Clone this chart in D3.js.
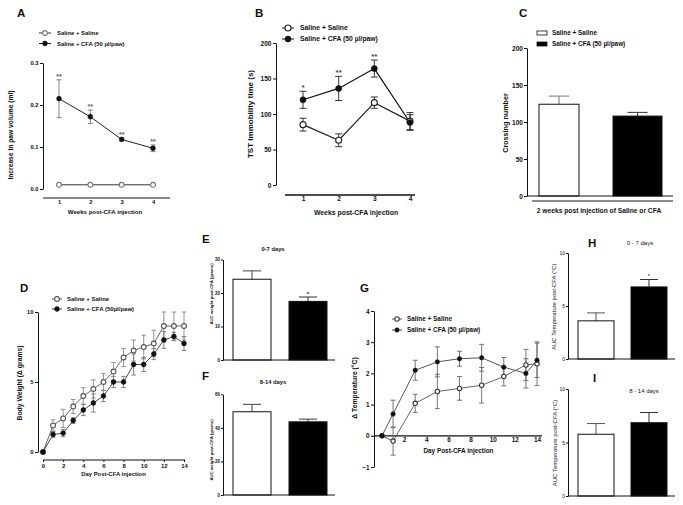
<!DOCTYPE html>
<html>
<head>
<meta charset="utf-8">
<script src="https://cdn.jsdelivr.net/npm/d3@7"></script>
<style>
body { margin: 0; background: #fff; }
svg text { font-family: "Liberation Sans", Arial, sans-serif; fill: #111; }
.axis path, .axis line { stroke: #111; stroke-width: 1; }
</style>
</head>
<body>
<div id="figure"></div>
<script>
const FIG_WIDTH = 683;
const FIG_HEIGHT = 505;

// ---- data ----
const groupNames = ["Saline + Saline", "Saline + CFA (50 \u00b5l/paw)"];
const groupNamesD = ["Saline + Saline", "Saline + CFA (50\u00b5l/paw)"];
const groupNamesC = ["Saline + Saline", "Saline + CFA (50  \u00b5l/paw)"];

// A: paw volume
const weeks = [1, 2, 3, 4];
const pawSaline = [0.01, 0.01, 0.01, 0.01];
const pawSalineErr = [0, 0, 0, 0];
const pawCfa = [0.215, 0.172, 0.118, 0.097];
const pawCfaErr = [0.045, 0.016, 0.003, 0.008];
const pawStars = ["**", "**", "**", "**"];

// B: TST immobility
const tstSaline = [85, 63, 116, 90];
const tstSalineErr = [9, 9, 8, 12];
const tstCfa = [120, 136, 164, 88];
const tstCfaErr = [12, 17, 12, 11];
const tstStars = ["*", "**", "**", ""];

// C: crossing number
const crossing = [124, 108];
const crossingErr = [11, 5];

// D: body weight
const weightDays = [0, 1, 2, 3, 4, 5, 6, 7, 8, 9, 10, 11, 12, 13, 14];
const weightSaline = [0, 1.9, 2.4, 3.25, 4.0, 4.5, 5.0, 5.75, 6.75, 7.25, 7.5, 7.75, 9.0, 9.0, 9.0];
const weightSalineErr = [0, 0.4, 0.65, 0.5, 0.6, 0.65, 0.6, 0.65, 0.65, 0.75, 0.85, 0.95, 1.0, 1.0, 1.0];
const weightCfa = [0, 1.25, 1.35, 2.25, 3.0, 3.5, 4.0, 5.0, 5.0, 6.25, 6.25, 7.0, 8.0, 8.25, 7.75];
const weightCfaErr = [0, 0.2, 0.25, 0.2, 0.4, 0.65, 0.4, 0.4, 0.4, 0.75, 0.5, 0.4, 0.6, 0.3, 0.5];

// E, F: AUC weight
const aucWeight07 = [24.1, 17.5];
const aucWeight07Err = [2.5, 1.3];
const aucWeight814 = [49.6, 43.6];
const aucWeight814Err = [4.4, 1.6];

// G: temperature
const tempDays = [0, 1, 3, 5, 7, 9, 11, 13, 14];
const tempSaline = [0, -0.17, 1.04, 1.42, 1.52, 1.62, 1.9, 2.27, 2.31];
const tempSalineErr = [0, 0.45, 0.29, 0.55, 0.38, 0.57, 0.3, 0.5, 0.7];
const tempCfa = [0, 0.7, 2.1, 2.37, 2.47, 2.5, 2.2, 2.0, 2.42];
const tempCfaErr = [0, 0.44, 0.32, 0.48, 0.24, 0.43, 0.31, 0.47, 0.55];

// H, I: AUC temperature
const aucTemp07 = [3.6, 6.8];
const aucTemp07Err = [0.75, 0.7];
const aucTemp814 = [5.77, 6.85];
const aucTemp814Err = [1.0, 0.95];

const barStarsCfa = ["", "*"];

let svg = d3.select("#figure").append("svg")
    .attr("width", FIG_WIDTH)
    .attr("height", FIG_HEIGHT);

// HELPER FUNCTIONS
const addText = (g, str, x, y, size, opts = {}) => {
    let t = g.append("text")
        .attr("x", x)
        .attr("y", y)
        .attr("font-size", size)
        .attr("font-weight", opts.weight || "bold")
        .attr("text-anchor", opts.anchor || "start")
        .text(str);
    if (opts.rotate) t.attr("transform", `rotate(-90,${x},${y})`);
    if (opts.fill) t.style("fill", opts.fill);
    return t;
}

const drawMarker = (g, cx, cy, r, filled, ring) => {
    g.append("circle")
        .attr("cx", cx).attr("cy", cy).attr("r", r)
        .attr("fill", filled ? "#111" : "#fff")
        .attr("stroke", filled ? "#111" : ring)
        .attr("stroke-width", filled ? 0.6 : 1.1);
}

const drawLinePanel = (p) => {
    let g = svg.append("g");
    let x = d3.scaleLinear().domain(p.xDomain).range(p.xRange);
    let y = d3.scaleLinear().domain(p.yDomain).range(p.yRange);
    let xAxisY = p.xAxisAtZero ? y(0) : p.xAxisY;

    g.append("g").attr("class", "axis")
        .attr("transform", `translate(${p.yAxisX},0)`)
        .call(d3.axisLeft(y).tickValues(p.yTicks).tickSize(3).tickSizeOuter(0)
            .tickPadding(1.5).tickFormat(p.yFormat))
        .attr("font-size", p.tickFont).attr("font-weight", "bold");

    let xg = g.append("g").attr("class", "axis")
        .attr("transform", `translate(0,${xAxisY})`)
        .call(d3.axisBottom(x).tickValues(p.xTicks).tickSize(p.xTickSize).tickPadding(1.5)
            .tickFormat(d3.format("d")))
        .attr("font-size", p.tickFont).attr("font-weight", "bold");
    xg.select(".domain").remove();
    xg.append("line").attr("x1", p.xLine[0]).attr("x2", p.xLine[1]).attr("y1", 0).attr("y2", 0)
        .style("stroke-width", p.xLineWidth || 1);

    // lines first, then error bars, then markers on top
    p.series.forEach((s) => {
        let pts = p.xValues.map((xv, i) => ({ x: xv, v: s.values[i], e: s.errors[i] }));
        g.append("path").datum(pts)
            .attr("d", d3.line().x(d => x(d.x)).y(d => y(d.v)))
            .attr("fill", "none")
            .attr("stroke", s.lineColor)
            .attr("stroke-width", p.lineWidth);
        pts.filter(d => d.e > 0).forEach((d) => {
            let eg = g.append("g").attr("stroke", s.errColor).attr("stroke-width", 0.9);
            eg.append("line").attr("x1", x(d.x)).attr("x2", x(d.x))
                .attr("y1", y(d.v - d.e)).attr("y2", y(d.v + d.e));
            [d.v - d.e, d.v + d.e].forEach((ev) => {
                eg.append("line").attr("x1", x(d.x) - p.capW).attr("x2", x(d.x) + p.capW)
                    .attr("y1", y(ev)).attr("y2", y(ev));
            });
        });
    });
    p.series.forEach((s) => {
        p.xValues.forEach((xv, i) => drawMarker(g, x(xv), y(s.values[i]), p.r, s.filled, s.ring));
    });

    if (p.stars) {
        p.stars.forEach((st, i) => {
            let s = p.series[1];
            addText(g, st, x(p.xValues[i]), y(s.values[i] + s.errors[i]) - 1,
                p.starFont, { anchor: "middle", fill: p.starColor });
        });
    }

    // legend
    p.series.forEach((s, i) => {
        let ly = p.legend.y + i * p.legend.dy;
        g.append("line")
            .attr("x1", p.legend.x - p.legend.half).attr("x2", p.legend.x + p.legend.half)
            .attr("y1", ly).attr("y2", ly)
            .attr("stroke", s.lineColor).attr("stroke-width", 1);
        drawMarker(g, p.legend.x, ly, p.r, s.filled, s.ring);
        addText(g, p.names[i], p.legend.textX, ly + p.legend.font * 0.35, p.legend.font);
    });

    addText(g, p.letter, p.letterPos[0], p.letterPos[1], 11.5);
    addText(g, p.xTitle, p.xTitlePos[0], p.xTitlePos[1], p.xTitleFont, { anchor: "middle" });
    addText(g, p.yTitle, p.yTitlePos[0], p.yTitlePos[1], p.yTitleFont, { anchor: "middle", rotate: true });
}

const drawBarPanel = (p) => {
    let g = svg.append("g");
    let y = d3.scaleLinear().domain(p.yDomain).range(p.yRange);
    let x = d3.scalePoint().domain([0, 1]).range(p.centers);
    let weight = p.bold === false ? "normal" : "bold";

    g.append("g").attr("class", "axis")
        .attr("transform", `translate(${p.yAxisX},0)`)
        .call(d3.axisLeft(y).tickValues(p.yTicks).tickSize(p.tickSize).tickSizeOuter(0)
            .tickPadding(1).tickFormat(d3.format("d")))
        .attr("font-size", p.tickFont).attr("font-weight", weight);

    p.values.forEach((v, i) => {
        let w = p.widths[i];
        let cx = x(i);
        // error bar (upper only)
        let eg = g.append("g").attr("stroke", i === 0 ? p.errColor0 : "#333").attr("stroke-width", 1);
        eg.append("line").attr("x1", cx).attr("x2", cx)
            .attr("y1", y(v)).attr("y2", y(v + p.errors[i]));
        eg.append("line").attr("x1", cx - p.capW).attr("x2", cx + p.capW)
            .attr("y1", y(v + p.errors[i])).attr("y2", y(v + p.errors[i]));
        g.append("rect")
            .attr("x", cx - w / 2).attr("width", w)
            .attr("y", y(v)).attr("height", y(0) - y(v))
            .attr("fill", i === 0 ? "#fff" : "#000")
            .attr("stroke", "#111").attr("stroke-width", 1);
        if (p.stars && p.stars[i]) {
            addText(g, p.stars[i], cx, y(v + p.errors[i]) - 1.5, p.starFont,
                { anchor: "middle", weight: weight });
        }
    });

    g.append("line").attr("x1", p.yAxisX).attr("x2", p.baseEnd)
        .attr("y1", y(0)).attr("y2", y(0))
        .attr("stroke", "#111").attr("stroke-width", 1);
    if (p.extraLine) {
        g.append("line").attr("x1", p.extraLine.x1).attr("x2", p.extraLine.x2)
            .attr("y1", p.extraLine.y).attr("y2", p.extraLine.y)
            .attr("stroke", "#666").attr("stroke-width", 1.6);
    }

    if (p.legend) {
        p.names.forEach((nm, i) => {
            let ly = p.legend.y + i * p.legend.dy;
            g.append("rect")
                .attr("x", p.legend.x).attr("y", ly - 2).attr("width", 10).attr("height", 4)
                .attr("fill", i === 0 ? "#fff" : "#000").attr("stroke", "#111").attr("stroke-width", 0.8);
            addText(g, nm, p.legend.textX, ly + p.legend.font * 0.35, p.legend.font);
        });
    }

    if (p.letter) addText(g, p.letter, p.letterPos[0], p.letterPos[1], 11.5);
    if (p.title) addText(g, p.title, p.titlePos[0], p.titlePos[1], p.titleFont, { anchor: "middle", weight: weight });
    if (p.xTitle) addText(g, p.xTitle, p.xTitlePos[0], p.xTitlePos[1], p.xTitleFont, { anchor: "middle" });
    addText(g, p.yTitle, p.yTitlePos[0], p.yTitlePos[1], p.yTitleFont,
        { anchor: "middle", rotate: true, weight: weight });
}

// ---- A ----
drawLinePanel({
    letter: "A", letterPos: [17, 17],
    xDomain: [1, 4], xRange: [59, 153], yDomain: [0, 0.3], yRange: [189, 63],
    yAxisX: 43, xAxisY: 198, xLine: [43, 170], xTickSize: 0,
    yTicks: [0, 0.1, 0.2, 0.3], yFormat: d3.format(".1f"), xTicks: weeks, xValues: weeks,
    tickFont: 5.8, r: 2.4, capW: 2.5, lineWidth: 1,
    series: [
        { values: pawSaline, errors: pawSalineErr, filled: false, ring: "#777", lineColor: "#333", errColor: "#777" },
        { values: pawCfa, errors: pawCfaErr, filled: true, lineColor: "#222", errColor: "#777" }
    ],
    stars: pawStars, starFont: 7, starColor: "#666",
    names: groupNames, legend: { x: 45, y: 33, dy: 10.5, half: 6, textX: 57, font: 5.9 },
    xTitle: "Weeks post-CFA injection", xTitlePos: [105, 213.5], xTitleFont: 6.1,
    yTitle: "Increase in paw volume (ml)", yTitlePos: [13, 135], yTitleFont: 6.7
});

// ---- B ----
drawLinePanel({
    letter: "B", letterPos: [255, 16.5],
    xDomain: [1, 4], xRange: [303, 410], yDomain: [0, 200], yRange: [185, 43],
    yAxisX: 276, xAxisY: 195, xLine: [285, 415], xLineWidth: 1.3, xTickSize: 0,
    yTicks: [0, 50, 100, 150, 200], yFormat: d3.format("d"), xTicks: weeks, xValues: weeks,
    tickFont: 6.6, r: 3, capW: 3.5, lineWidth: 1.2,
    series: [
        { values: tstSaline, errors: tstSalineErr, filled: false, ring: "#222", lineColor: "#222", errColor: "#222" },
        { values: tstCfa, errors: tstCfaErr, filled: true, lineColor: "#111", errColor: "#222" }
    ],
    stars: tstStars, starFont: 8, starColor: "#444",
    names: groupNames, legend: { x: 288, y: 28, dy: 11, half: 6, textX: 300, font: 6.8 },
    xTitle: "Weeks post-CFA injection", xTitlePos: [356, 214.5], xTitleFont: 6.9,
    yTitle: "TST Immobility time (s)", yTitlePos: [253, 114], yTitleFont: 8
});

// ---- C ----
drawBarPanel({
    letter: "C", letterPos: [519, 16.5],
    yDomain: [0, 200], yRange: [196, 48], yAxisX: 527, yTicks: [0, 50, 100, 150, 200],
    tickSize: 3, tickFont: 6.6,
    values: crossing, errors: crossingErr, centers: [559, 637.5], widths: [40, 49], capW: 10,
    errColor0: "#777", baseEnd: 673, extraLine: { y: 201, x1: 532, x2: 673 },
    names: groupNamesC, legend: { x: 537, y: 33, dy: 11, textX: 552, font: 6.4 },
    xTitle: "2 weeks post injection of Saline or CFA", xTitlePos: [599, 212.5], xTitleFont: 6.7,
    yTitle: "Crossing number", yTitlePos: [507.5, 123], yTitleFont: 7.2
});

// ---- D ----
drawLinePanel({
    letter: "D", letterPos: [20, 292],
    xDomain: [0, 14], xRange: [43, 184], yDomain: [0, 10], yRange: [452, 312],
    yAxisX: 38, xAxisY: 460, xLine: [43, 185], xLineWidth: 1.2, xTickSize: 2,
    yTicks: [0, 5, 10], yFormat: d3.format("d"), xTicks: [0, 2, 4, 6, 8, 10, 12, 14], xValues: weightDays,
    tickFont: 6, r: 2.4, capW: 2.3, lineWidth: 0.9,
    series: [
        { values: weightSaline, errors: weightSalineErr, filled: false, ring: "#555", lineColor: "#555", errColor: "#888" },
        { values: weightCfa, errors: weightCfaErr, filled: true, lineColor: "#333", errColor: "#777" }
    ],
    names: groupNamesD, legend: { x: 57, y: 299, dy: 10, half: 5, textX: 67, font: 6 },
    xTitle: "Day Post-CFA injection", xTitlePos: [113.5, 476], xTitleFont: 5.9,
    yTitle: "Body Weight (\u0394 grams)", yTitlePos: [22, 383], yTitleFont: 6.8
});

// ---- E ----
drawBarPanel({
    letter: "E", letterPos: [202, 242.5],
    yDomain: [0, 30], yRange: [360, 259.5], yAxisX: 223, yTicks: [0, 10, 20, 30],
    tickSize: 2, tickFont: 4.5,
    values: aucWeight07, errors: aucWeight07Err, centers: [252, 308], widths: [38, 38], capW: 9,
    errColor0: "#444", baseEnd: 335, stars: barStarsCfa, starFont: 6,
    title: "0-7 days", titlePos: [273, 251], titleFont: 5.8,
    yTitle: "AUC weight post-CFA (grams)", yTitlePos: [212.7, 294], yTitleFont: 4.3
});

// ---- F ----
drawBarPanel({
    letter: "F", letterPos: [202, 380],
    yDomain: [0, 60], yRange: [495, 394.3], yAxisX: 223, yTicks: [0, 20, 40, 60],
    tickSize: 2, tickFont: 4.5,
    values: aucWeight814, errors: aucWeight814Err, centers: [252, 308], widths: [38, 38], capW: 9,
    errColor0: "#444", baseEnd: 335,
    title: "8-14 days", titlePos: [273, 384], titleFont: 5.8,
    yTitle: "AUC weight post-CFA (grams)", yTitlePos: [212.7, 450], yTitleFont: 4.3
});

// ---- G ----
drawLinePanel({
    letter: "G", letterPos: [360, 292],
    xDomain: [0, 14], xRange: [382, 537], yDomain: [-1, 4], yRange: [467, 311],
    yAxisX: 374, xAxisAtZero: true, xLine: [374, 542], xLineWidth: 1.2, xTickSize: 0,
    yTicks: [-1, 0, 1, 2, 3, 4], yFormat: d3.format("d"), xTicks: [2, 4, 6, 8, 10, 12, 14], xValues: tempDays,
    tickFont: 6.4, r: 2.2, capW: 2.5, lineWidth: 0.9,
    series: [
        { values: tempSaline, errors: tempSalineErr, filled: false, ring: "#333", lineColor: "#555", errColor: "#666" },
        { values: tempCfa, errors: tempCfaErr, filled: true, lineColor: "#444", errColor: "#666" }
    ],
    names: groupNames, legend: { x: 397, y: 319, dy: 11, half: 5, textX: 407, font: 6.4 },
    xTitle: "Day Post-CFA injection", xTitlePos: [458.5, 452.5], xTitleFont: 6.4,
    yTitle: "\u0394 Temperature (\u00b0C)", yTitlePos: [357, 388], yTitleFont: 6.8
});

// ---- H ----
drawBarPanel({
    letter: "H", letterPos: [588, 247],
    yDomain: [0, 10], yRange: [359, 253], yAxisX: 568, yTicks: [0, 5, 10],
    tickSize: 2, tickFont: 5, bold: false,
    values: aucTemp07, errors: aucTemp07Err, centers: [596, 649], widths: [36, 36], capW: 9,
    errColor0: "#555", baseEnd: 675, stars: barStarsCfa, starFont: 6,
    title: "0 - 7 days", titlePos: [640, 245], titleFont: 6,
    yTitle: "AUC Temperature post-CFA (\u00b0C)", yTitlePos: [556.5, 306.7], yTitleFont: 6
});

// ---- I ----
drawBarPanel({
    letter: "I", letterPos: [593, 382],
    yDomain: [0, 10], yRange: [496, 389], yAxisX: 568, yTicks: [0, 5, 10],
    tickSize: 2, tickFont: 5, bold: false,
    values: aucTemp814, errors: aucTemp814Err, centers: [596, 649], widths: [36, 36], capW: 9,
    errColor0: "#555", baseEnd: 675,
    title: "8 - 14 days", titlePos: [644, 393], titleFont: 6,
    yTitle: "AUC Temperature post-CFA (\u00b0C)", yTitlePos: [556.5, 443], yTitleFont: 6
});
</script>
</body>
</html>
